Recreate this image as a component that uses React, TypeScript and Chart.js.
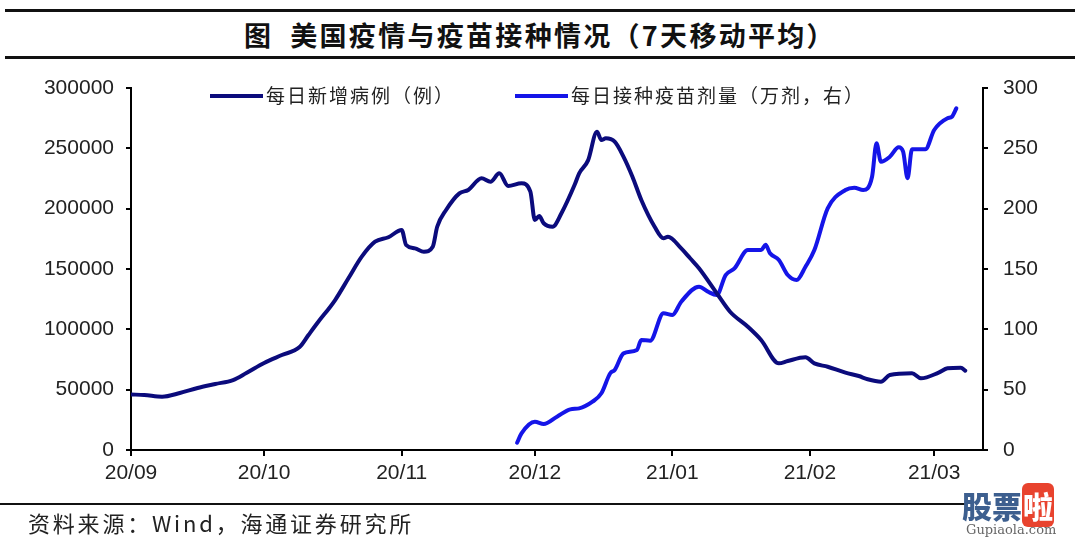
import React, { useEffect, useRef } from "react";
import { Chart, registerables } from "chart.js";

Chart.register(...registerables);

const monthLabels = ["20/09", "20/10", "20/11", "20/12", "21/01", "21/02", "21/03"];
const monthStartDays = [0, 30, 61, 91, 122, 153, 181];

const caseDays = [0, 3, 7, 11, 15, 19, 23, 26, 30, 34, 38, 40, 42, 46, 49, 52, 55, 58, 61, 62, 64, 66, 68, 69, 71, 74, 76, 79, 81, 83, 85, 88, 90, 91, 92, 93, 95, 97, 100, 101, 103, 105, 106, 107, 109, 111, 113, 115, 118, 120, 121, 124, 126, 128, 132, 135, 139, 142, 146, 148, 152, 154, 157, 161, 164, 166, 169, 171, 176, 178, 182, 184, 187, 188];
const caseValues = [46000, 45600, 44200, 47200, 51400, 54700, 58000, 63800, 72100, 78700, 85300, 95300, 105200, 124300, 142300, 160200, 172600, 176300, 182300, 169900, 167100, 164300, 168500, 185000, 198900, 212700, 215500, 225200, 222300, 229300, 218800, 221000, 214100, 190600, 193900, 187900, 185000, 196200, 220000, 229300, 240000, 263800, 256900, 258300, 255500, 243000, 226500, 207200, 185000, 175400, 176800, 167100, 158900, 150600, 129900, 114600, 102200, 91200, 71800, 73800, 76800, 71800, 69000, 64100, 61300, 58600, 56600, 62200, 63600, 59400, 64100, 67700, 68200, 65700];

const vacDays = [87, 88, 91, 93, 96, 99, 101, 104, 106, 108, 109, 111, 114, 115, 117, 120, 122, 124, 128, 130, 132, 134, 136, 139, 142, 143, 144, 146, 148, 150, 152, 154, 157, 161, 163, 165, 167, 168, 169, 171, 173, 174, 175, 176, 179, 181, 184, 185, 186];
const vacValues = [6, 13.8, 23.5, 21.5, 27.6, 33.7, 34.5, 40, 47, 63.6, 66.3, 80.1, 82.9, 91.2, 90.6, 113.3, 111.9, 122.9, 135.3, 131.2, 128.5, 145, 150.5, 165.7, 165.7, 170, 163, 157.5, 145, 140.9, 151.9, 165.7, 200.3, 215.5, 217.4, 215.5, 226.5, 254.2, 238.9, 243, 250.8, 247.2, 225.2, 249.2, 249.2, 265.2, 274.9, 276.2, 283.2];

const seriesNames = ["每日新增病例（例）", "每日接种疫苗剂量（万剂，右）"];
const seriesColors = ["#0b0b7c", "#1515e8"];

const titleText = "图  美国疫情与疫苗接种情况（7天移动平均）";
const sourceText = "资料来源：Wind，海通证券研究所";

const CJK = '"Noto Sans CJK SC", "Noto Sans", sans-serif';
const NUM = '"Liberation Sans", Arial, sans-serif';

const legendPlugin = {
  id: "customLegend",
  afterDraw(chart: any) {
    const ctx = chart.ctx;
    const items = [
      { x1: 210, x2: 263, tx: 266, i: 0 },
      { x1: 515, x2: 568, tx: 571, i: 1 },
    ];
    const y = 96;
    ctx.save();
    items.forEach((it) => {
      ctx.strokeStyle = seriesColors[it.i];
      ctx.lineWidth = 4;
      ctx.lineCap = "butt";
      ctx.beginPath();
      ctx.moveTo(it.x1, y);
      ctx.lineTo(it.x2, y);
      ctx.stroke();
      ctx.fillStyle = "#222";
      ctx.font = `19px ${CJK}`;
      (ctx as any).letterSpacing = "2px";
      ctx.textBaseline = "middle";
      ctx.textAlign = "left";
      ctx.fillText(seriesNames[it.i], it.tx, y);
    });
    ctx.restore();
  },
};

export default function App() {
  const ref = useRef<HTMLCanvasElement | null>(null);

  useEffect(() => {
    if (!ref.current) return;
    const chart = new Chart(ref.current, {
      type: "line",
      data: {
        datasets: [
          {
            label: seriesNames[0],
            data: caseDays.map((d, i) => ({ x: d, y: caseValues[i] })),
            borderColor: seriesColors[0],
            backgroundColor: seriesColors[0],
            borderWidth: 4,
            pointRadius: 0,
            cubicInterpolationMode: "monotone",
            borderJoinStyle: "round",
            borderCapStyle: "round",
            yAxisID: "y",
          },
          {
            label: seriesNames[1],
            data: vacDays.map((d, i) => ({ x: d, y: vacValues[i] })),
            borderColor: seriesColors[1],
            backgroundColor: seriesColors[1],
            borderWidth: 4,
            pointRadius: 0,
            cubicInterpolationMode: "monotone",
            borderJoinStyle: "round",
            borderCapStyle: "round",
            yAxisID: "y1",
          },
        ],
      },
      options: {
        animation: false,
        responsive: false,
        devicePixelRatio: 1,
        layout: { padding: { top: 88, left: 0, right: 0, bottom: 0 } },
        plugins: {
          legend: { display: false },
          tooltip: { enabled: false },
        },
        scales: {
          x: {
            type: "linear",
            min: 0,
            max: 192,
            afterBuildTicks: (scale: any) => {
              scale.ticks = monthStartDays.map((v) => ({ value: v }));
            },
            afterFit: (scale: any) => {
              scale.height = 93;
            },
            ticks: {
              autoSkip: false,
              maxRotation: 0,
              padding: 5,
              color: "#222",
              font: { family: NUM, size: 21 },
              callback: (v: any) => {
                const idx = monthStartDays.indexOf(Number(v));
                return idx >= 0 ? monthLabels[idx] : "";
              },
            },
            grid: { drawOnChartArea: false, drawTicks: true, tickLength: 6, color: "#000", lineWidth: 2 },
            border: { display: true, color: "#000", width: 2 },
          },
          y: {
            position: "left",
            min: 0,
            max: 300000,
            afterFit: (scale: any) => {
              scale.width = 131;
            },
            ticks: {
              stepSize: 50000,
              padding: 12,
              color: "#222",
              font: { family: NUM, size: 21 },
              callback: (v: any) => String(v),
            },
            grid: { drawOnChartArea: false, drawTicks: true, tickLength: 5, color: "#000", lineWidth: 2 },
            border: { display: true, color: "#000", width: 2 },
          },
          y1: {
            position: "right",
            min: 0,
            max: 300,
            afterFit: (scale: any) => {
              scale.width = 97;
            },
            ticks: {
              stepSize: 50,
              padding: 15,
              color: "#222",
              font: { family: NUM, size: 21 },
              callback: (v: any) => String(v),
            },
            grid: { drawOnChartArea: false, drawTicks: true, tickLength: 5, color: "#000", lineWidth: 2 },
            border: { display: true, color: "#000", width: 2 },
          },
        },
      } as any,
      plugins: [legendPlugin],
    });
    return () => chart.destroy();
  }, []);

  return (
    <div style={{ position: "absolute", left: 0, top: 0, width: 1080, height: 543, background: "#fff", overflow: "hidden" }}>
      <div style={{ position: "absolute", left: 5, top: 9, width: 1070, height: 3, background: "#111" }} />
      <div
        style={{
          position: "absolute",
          left: 0,
          top: 17,
          width: 1080,
          textAlign: "center",
          fontFamily: CJK,
          fontSize: 27,
          fontWeight: 700,
          letterSpacing: "2.3px",
          lineHeight: "36px",
          color: "#111",
          whiteSpace: "pre",
        }}
      >
        {titleText}
      </div>
      <div style={{ position: "absolute", left: 5, top: 56, width: 1070, height: 3, background: "#111" }} />
      <canvas ref={ref} width={1080} height={543} style={{ position: "absolute", left: 0, top: 0, width: 1080, height: 543 }} />
      <div style={{ position: "absolute", left: 0, top: 503, width: 965, height: 2, background: "#111" }} />
      <div
        style={{
          position: "absolute",
          left: 28,
          top: 507,
          fontFamily: CJK,
          fontSize: 22,
          letterSpacing: "2.8px",
          lineHeight: "30px",
          color: "#222",
          whiteSpace: "pre",
        }}
      >
        {sourceText}
      </div>
      <div style={{ position: "absolute", left: 962, top: 488, width: 118, height: 55 }}>
        <div style={{ fontFamily: CJK, fontSize: 30, fontWeight: 900, lineHeight: "34px", color: "#3d5f8f", whiteSpace: "pre" }}>
          股票
          <span style={{ background: "#e8432e", color: "#fff", borderRadius: 6, padding: "0 1px" }}>啦</span>
        </div>
        <div style={{ fontFamily: '"DejaVu Serif", serif', fontSize: 13, color: "#666", lineHeight: "16px", marginLeft: 4 }}>Gupiaola.com</div>
      </div>
    </div>
  );
}
